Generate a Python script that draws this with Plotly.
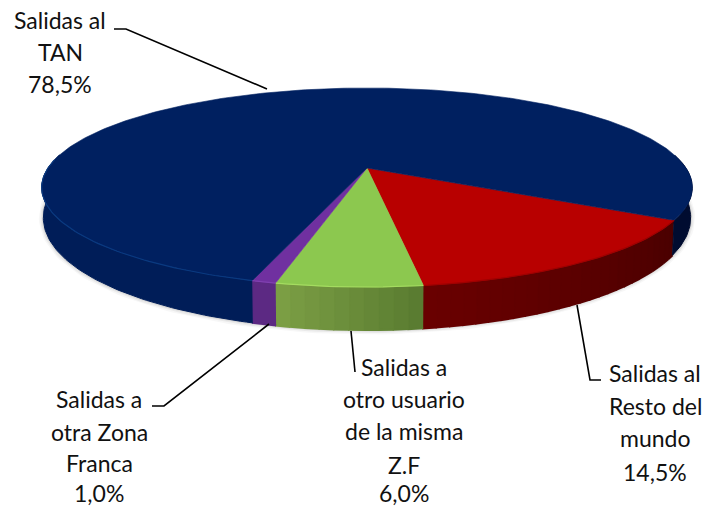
import math
import plotly.graph_objects as go

categories = ["Salidas al Resto del mundo", "Salidas a otro usuario de la misma Z.F",
              "Salidas a otra Zona Franca", "Salidas al TAN"]
values = [14.5, 6.0, 1.0, 78.5]
top_colors = ["#b80000", "#8cc84f", "#7030a0", "#002060"]
wall_start = ["#6a0000", "#7da045", "#5f2a86", "#001d58"]
wall_end = ["#4a0000", "#587a30", "#5a2880", "#000c30"]
label_lines = [["Salidas al", "Resto del", "mundo", "14,5%"],
               ["Salidas a", "otro usuario", "de la misma", "Z.F", "6,0%"],
               ["Salidas a", "otra Zona", "Franca", "1,0%"],
               ["Salidas al", "TAN", "78,5%"]]

START_DEG = 29.6
CX, CY, A, B, K = 367.0, 168.0, 319.0, 95.7, 0.196
label_pos = [(655, [373, 406, 438, 472]),
             (404, [367, 399, 431, 465, 493]),
             (99, [399, 432, 463, 493]),
             (60, [20, 52, 84])]
leaders = [[(577, 305), (590, 380), (601, 380)],
           [(351, 331), (355, 372)],
           [(269, 324), (164, 406), (152, 406)],
           [(114, 29), (126, 29), (267, 89)]]


def top(t):
    u, v = math.cos(t), math.sin(t)
    d = 1 - K * v
    return CX + A * u / d, CY + B * v / d


def bottom(t):
    x, y = top(t)
    v = math.sin(t)
    return CX + (x - CX) * 0.995, y + 27 + 16 * v


def arc(fn, a0, a1, n=None):
    n = n or max(2, int(abs(a1 - a0) / math.radians(1)) + 2)
    pts = [fn(a0 + (a1 - a0) * i / (n - 1)) for i in range(n)]
    return [p[0] for p in pts], [p[1] for p in pts]


def mix(c0, c1, f):
    a = [int(c0[i:i + 2], 16) for i in (1, 3, 5)]
    b = [int(c1[i:i + 2], 16) for i in (1, 3, 5)]
    return "rgb(%d,%d,%d)" % tuple(round(p + (q - p) * f) for p, q in zip(a, b))


fig = go.Figure()


def poly(xs, ys, color, lw=0.6):
    fig.add_trace(go.Scatter(x=xs, y=ys, mode="lines", fill="toself", fillcolor=color,
                             line=dict(color=color, width=lw), hoverinfo="skip",
                             showlegend=False))


# slice angle spans, derived from values
total = sum(values)
spans = []
a = math.radians(START_DEG)
for val in values:
    b = a + 2 * math.pi * val / total
    spans.append((a, b))
    a = b

# soft shadow round the outline of the body
VIS0, VIS1 = math.radians(-8), math.radians(188)
sx, sy = arc(bottom, VIS0, VIS1, 120)
for w, op in [(9, 0.03), (6, 0.05), (3, 0.08)]:
    fig.add_trace(go.Scatter(x=sx, y=sy, mode="lines", hoverinfo="skip", showlegend=False,
                             line=dict(color="rgba(0,0,0,%g)" % op, width=w)))

# side wall, with a shade running along it; angle increases from right to left
for i, (a0, a1) in enumerate(spans):
    ranges = [(a0, min(a1, VIS1))]
    if a1 > 2 * math.pi + VIS0:
        ranges.append((2 * math.pi + VIS0, a1))
    for r0, r1 in ranges:
        if r1 <= r0:
            continue
        n = 1 if i == 3 else max(1, int((r1 - r0) / math.radians(2)))
        for j in range(n):
            s0 = r0 + (r1 - r0) * j / n
            s1 = r0 + (r1 - r0) * (j + 1) / n
            x1, y1 = arc(top, s0, s1, None if i == 3 else 4)
            x2, y2 = arc(bottom, s1, s0, None if i == 3 else 4)
            if r0 > math.pi:          # right-hand part of the large slice
                col = wall_end[i]
            elif i == 3:
                col = wall_start[i]
            else:
                col = mix(wall_end[i], wall_start[i], (j + 0.5) / n)
            poly(x1 + x2, y1 + y2, col, 1.0 if i == 3 else 2.0)

# top face
for i, (a0, a1) in enumerate(spans):
    xs, ys = arc(top, a0, a1)
    poly([CX] + xs + [CX], [CY] + ys + [CY], top_colors[i])

# thin lit rim along the front of the top face
rim = ["#a00000", "#a4dc60", "#8040b0", "#0a3a80"]
for i, (a0, a1) in enumerate(spans):
    r1 = min(a1, math.radians(185))
    if r1 > a0:
        xs, ys = arc(top, a0, r1)
        fig.add_trace(go.Scatter(x=xs, y=ys, mode="lines", hoverinfo="skip", showlegend=False,
                                 line=dict(color=rim[i], width=1.2)))

# leader lines
for pts in leaders:
    fig.add_trace(go.Scatter(x=[p[0] for p in pts], y=[p[1] for p in pts], mode="lines",
                             hoverinfo="skip", showlegend=False,
                             line=dict(color="#000000", width=1.6)))

# labels
for lines, (lx, lys) in zip(label_lines, label_pos):
    for text, ly in zip(lines, lys):
        fig.add_annotation(x=lx, y=ly, text=text, showarrow=False, xanchor="center",
                           yanchor="middle", font=dict(family="Lato", size=23, color="#111111"))

fig.update_layout(width=707, height=508, margin=dict(l=0, r=0, t=0, b=0),
                  paper_bgcolor="white", plot_bgcolor="white", showlegend=False,
                  xaxis=dict(range=[0, 707], visible=False, fixedrange=True),
                  yaxis=dict(range=[508, 0], visible=False, fixedrange=True))
fig.write_html("out.html", config=dict(displayModeBar=False),
               post_script="document.body.style.margin='0';document.body.style.overflow='hidden';")
